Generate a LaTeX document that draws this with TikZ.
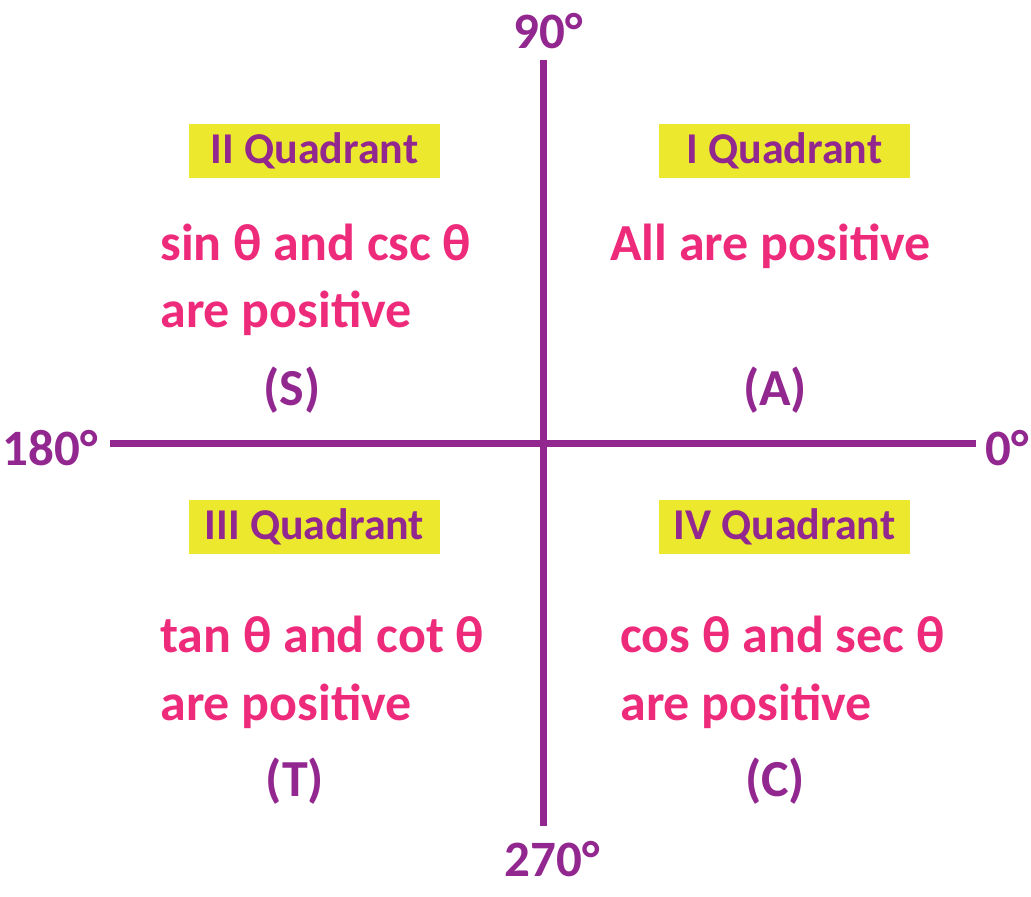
\documentclass[tikz,border=0pt]{standalone}
\usepackage{fontspec}
\setmainfont{Carlito}
\usepackage{tikz}
\definecolor{axispurple}{HTML}{92278F}
\definecolor{signpink}{HTML}{EE2A7B}
\definecolor{boxyellow}{HTML}{EBE82E}
\tikzset{
  quadlabel/.style={fill=boxyellow, text=axispurple, font=\fontsize{22}{26}\selectfont\bfseries,
    minimum width=125.5pt, minimum height=27pt, inner sep=0pt},
  signtext/.style={text=signpink, font=\fontsize{26}{30}\selectfont\bfseries, anchor=base west, inner sep=0pt},
  lettertext/.style={text=axispurple, font=\fontsize{26}{30}\selectfont\bfseries, inner sep=0pt},
  anglelabel/.style={text=axispurple, font=\fontsize{25.5}{30}\selectfont\bfseries, inner sep=0pt}
}
\begin{document}
\begin{tikzpicture}[x=0.5pt, y=-0.5pt]
      \useasboundingbox (0,0) rectangle (1031,897);
      % Axes:
      \coordinate (top) at (543,60);
      \coordinate (bottom) at (543,826);
      \coordinate (left) at (110,443);
      \coordinate (right) at (976,443);
      \draw[axispurple, line width=3.5pt] (left) -- (right);
      \draw[axispurple, line width=3.5pt] (top) -- (bottom);
      \node[anglelabel] (deg90) at (548,31) {90°};
      \node[anglelabel] (deg180) at (50,448) {180°};
      \node[anglelabel] (deg0) at (1007,448) {0°};
      \node[anglelabel] (deg270) at (552,859) {270°};
      % Quadrant boxes:
      \node[quadlabel] (q2) at (314.5,151) {II Quadrant};
      \node[quadlabel] (q1) at (784.5,151) {I Quadrant};
      \node[quadlabel] (q3) at (314.5,527) {III Quadrant};
      \node[quadlabel] (q4) at (784.5,527) {IV Quadrant};
      % Signs in each quadrant:
      \node[signtext] (q2a) at (160,261) {sin θ and csc θ};
      \node[signtext] (q2b) at (160,328) {are positive};
      \node[lettertext] (q2s) at (292,390) {(S)};
      \node[signtext] (q1a) at (610,261) {All are positive};
      \node[lettertext] (q1s) at (775,390) {(A)};
      \node[signtext] (q3a) at (160,652) {tan θ and cot θ};
      \node[signtext] (q3b) at (160,720) {are positive};
      \node[lettertext] (q3s) at (295,781) {(T)};
      \node[signtext] (q4a) at (620,652) {cos θ and sec θ};
      \node[signtext] (q4b) at (620,720) {are positive};
      \node[lettertext] (q4s) at (775,781) {(C)};
    \end{tikzpicture}
\end{document}
